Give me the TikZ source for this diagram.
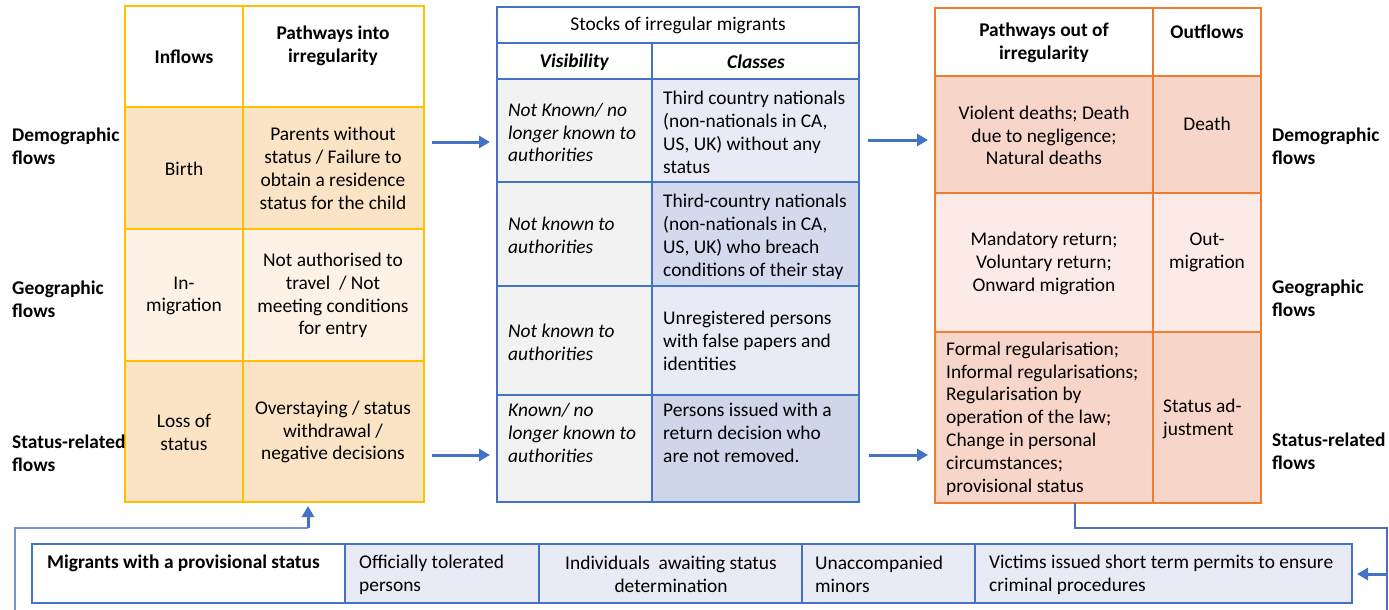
\documentclass[tikz,border=0pt]{standalone}
\usepackage{fontspec}
\setmainfont{Carlito}
\usetikzlibrary{arrows.meta}
\definecolor{ylw}{HTML}{FFC000}
\definecolor{ylA}{HTML}{FBE3C5}
\definecolor{ylB}{HTML}{FDF2E5}
\definecolor{blu}{HTML}{4472C4}
\definecolor{gryc}{HTML}{F2F2F2}
\definecolor{blA}{HTML}{E8EBF5}
\definecolor{blB}{HTML}{D4DAEE}
\definecolor{blC}{HTML}{CFD6EA}
\definecolor{org}{HTML}{ED7D31}
\definecolor{orA}{HTML}{F8D5C9}
\definecolor{orB}{HTML}{FBEAE5}
\definecolor{lnk}{HTML}{4A6FB5}
\newcommand\mkcell[6]{%
  \node[cellbase,#6,minimum width={#4pt-#2pt},minimum height={#5pt-#3pt}] (#1) at ({(#2+#4)/2},{(#3+#5)/2}) {};}
\begin{document}
\begin{tikzpicture}[x=1pt,y=-1pt,
  cellbase/.style={rectangle,inner sep=0pt,outer sep=0pt},
  ycell/.style={draw=ylw,line width=2.8pt},
  bcell/.style={draw=blu,line width=2.5pt},
  ocell/.style={draw=org,line width=2.8pt},
  txt/.style={inner sep=0pt,align=center,font=\fontsize{19.4}{22.8}\selectfont,text=black},
  itxt/.style={txt,font=\fontsize{19.4}{22.8}\selectfont\itshape,align=left,anchor=west},
  ltxt/.style={txt,align=left,anchor=west},
  btxt/.style={txt,font=\fontsize{19.4}{22.8}\selectfont\bfseries},
  bltxt/.style={btxt,align=left,anchor=west},
  bigarrow/.style={draw=blu,line width=3pt,-{Triangle[length=11pt,width=12pt]}},
  link/.style={draw=lnk,line width=1.5pt}]
\useasboundingbox (0,0) rectangle (1389,610);

% ---------- left table ----------
\mkcell{Lh1}{125}{6}{243}{107}{ycell,fill=white}
\mkcell{Lh2}{243}{6}{424}{107}{ycell,fill=white}
\mkcell{Lr1c1}{125}{107}{243}{229}{ycell,fill=ylA}
\mkcell{Lr1c2}{243}{107}{424}{229}{ycell,fill=ylA}
\mkcell{Lr2c1}{125}{229}{243}{361}{ycell,fill=ylB}
\mkcell{Lr2c2}{243}{229}{424}{361}{ycell,fill=ylB}
\mkcell{Lr3c1}{125}{361}{243}{502}{ycell,fill=ylA}
\mkcell{Lr3c2}{243}{361}{424}{502}{ycell,fill=ylA}

\node[btxt] (tLh1) at (184,57) {Inflows};
\node[btxt] (tLh2) at (333,46) {Pathways into\\irregularity};
\node[txt] (tL11) at (184,169) {Birth};
\node[txt] (tL12) at (333,168.5) {Parents without\\status / Failure to\\obtain a residence\\status for the child};
\node[txt] (tL21) at (184,296) {In-\\migration};
\node[txt] (tL22) at (333,295.5) {Not authorised to\\travel~~/ Not\\meeting conditions\\for entry};
\node[txt] (tL31) at (184,432.5) {Loss of\\status};
\node[txt] (tL32) at (333,432) {Overstaying / status\\withdrawal /\\negative decisions};

\node[bltxt] (lab1) at (12,146) {Demographic\\flows};
\node[bltxt] (lab2) at (12,299) {Geographic\\flows};
\node[bltxt] (lab3) at (12,453) {Status-related\\flows};

% ---------- middle table ----------
\mkcell{Mt}{497}{7}{859}{43}{bcell,fill=white}
\mkcell{Mh1}{497}{43}{652}{79}{bcell,fill=white}
\mkcell{Mh2}{652}{43}{859}{79}{bcell,fill=white}
\mkcell{Mr1c1}{497}{79}{652}{182}{bcell,fill=gryc}
\mkcell{Mr1c2}{652}{79}{859}{182}{bcell,fill=blA}
\mkcell{Mr2c1}{497}{182}{652}{286}{bcell,fill=gryc}
\mkcell{Mr2c2}{652}{182}{859}{286}{bcell,fill=blB}
\mkcell{Mr3c1}{497}{286}{652}{395}{bcell,fill=gryc}
\mkcell{Mr3c2}{652}{286}{859}{395}{bcell,fill=blA}
\mkcell{Mr4c1}{497}{395}{652}{502}{bcell,fill=gryc}
\mkcell{Mr4c2}{652}{395}{859}{502}{bcell,fill=blC}

\node[txt] (tMt) at (678,25) {Stocks of irregular migrants};
\node[btxt] (tMh1) at (574.5,62) {\textit{Visibility}};
\node[btxt] (tMh2) at (756,62) {\textit{Classes}};
\node[itxt] (tM11) at (508,132.5) {Not Known/ no\\longer known to\\authorities};
\node[ltxt] (tM12) at (663,132.5) {Third country nationals\\(non-nationals in CA,\\US, UK) without any\\status};
\node[itxt] (tM21) at (508,235) {Not known to\\authorities};
\node[ltxt] (tM22) at (663,237) {Third-country nationals\\(non-nationals in CA,\\US, UK) who breach\\conditions of their stay};
\node[itxt] (tM31) at (508,342) {Not known to\\authorities};
\node[ltxt] (tM32) at (663,341) {Unregistered persons\\with false papers and\\identities};
\node[itxt] (tM41) at (508,433) {Known/ no\\longer known to\\authorities};
\node[ltxt] (tM42) at (663,433) {Persons issued with a\\return decision who\\are not removed.};

% ---------- right table ----------
\mkcell{Rh1}{935}{8}{1153}{76}{ocell,fill=white}
\mkcell{Rh2}{1153}{8}{1261}{76}{ocell,fill=white}
\mkcell{Rr1c1}{935}{76}{1153}{193}{ocell,fill=orA}
\mkcell{Rr1c2}{1153}{76}{1261}{193}{ocell,fill=orA}
\mkcell{Rr2c1}{935}{193}{1153}{332}{ocell,fill=orB}
\mkcell{Rr2c2}{1153}{193}{1261}{332}{ocell,fill=orB}
\mkcell{Rr3c1}{935}{332}{1153}{503}{ocell,fill=orA}
\mkcell{Rr3c2}{1153}{332}{1261}{503}{ocell,fill=orA}

\node[btxt] (tRh1) at (1044,43) {Pathways out of\\irregularity};
\node[btxt] (tRh2) at (1207,32) {Outflows};
\node[txt] (tR11) at (1044,135.5) {Violent deaths; Death\\due to negligence;\\Natural deaths};
\node[txt] (tR12) at (1207,124) {Death};
\node[txt] (tR21) at (1044,263.5) {Mandatory return;\\Voluntary return;\\Onward migration};
\node[txt] (tR22) at (1207,252) {Out-\\migration};
\node[ltxt] (tR31) at (946,418.5) {Formal regularisation;\\Informal regularisations;\\Regularisation by\\operation of the law;\\Change in personal\\circumstances;\\provisional status};
\node[ltxt] (tR32) at (1163,419) {Status ad-\\justment};

\node[bltxt] (rab1) at (1272,146) {Demographic\\flows};
\node[bltxt] (rab2) at (1272,298.5) {Geographic\\flows};
\node[bltxt] (rab3) at (1272,451) {Status-related\\flows};

% ---------- bottom box ----------
\mkcell{B1}{32}{544}{345}{603}{bcell,line width=2.8pt,fill=white}
\mkcell{B2}{345}{544}{539}{603}{bcell,line width=2.8pt,fill=blA}
\mkcell{B3}{539}{544}{802}{603}{bcell,line width=2.8pt,fill=blA}
\mkcell{B4}{802}{544}{975}{603}{bcell,line width=2.8pt,fill=blA}
\mkcell{B5}{975}{544}{1352}{603}{bcell,line width=2.8pt,fill=blA}

\node[bltxt] (tB1) at (47,563) {Migrants with a provisional status};
\node[ltxt] (tB2) at (359,574.5) {Officially tolerated\\persons};
\node[txt] (tB3) at (671,574.5) {Individuals~~awaiting status\\determination};
\node[ltxt] (tB4) at (815,574.5) {Unaccompanied\\minors};
\node[ltxt] (tB5) at (989,574.5) {Victims issued short term permits to ensure\\criminal procedures};

% ---------- connectors ----------
\draw[bigarrow] ([xshift=8pt,yshift=26pt]Lr1c2.east) -- ([xshift=-7pt,yshift=26pt]Lr1c2.east -| Mr1c1.west);
\draw[bigarrow] ([xshift=8pt,yshift=-23.5pt]Lr3c2.east) -- ([xshift=-7pt,yshift=-23.5pt]Lr3c2.east -| Mr4c1.west);
\draw[bigarrow] ([xshift=9pt,yshift=-9.5pt]Mr1c2.east) -- ([xshift=-7pt,yshift=-9.5pt]Mr1c2.east -| Rr1c1.west);
\draw[bigarrow] ([xshift=10pt,yshift=-6.5pt]Mr4c2.east) -- ([xshift=-7pt,yshift=-6.5pt]Mr4c2.east -| Rr3c1.west);

\coordinate (loopL) at (15,610);
\coordinate (jL) at (308,528);
\coordinate (loopR) at (1387,610);
\coordinate (jR) at (1387,574);
\draw[link,draw=lnk!75] (loopL) |- (jL);
\draw[bigarrow] (jL) -- ([yshift=-4pt]jL |- Lr3c2.south);
\draw[link] ([xshift=31pt]Rr3c1.south) |- (1387,528) -- (loopR);
\draw[bigarrow] (jR) -- ([xshift=5pt]jR -| B5.east);
\end{tikzpicture}
\end{document}
